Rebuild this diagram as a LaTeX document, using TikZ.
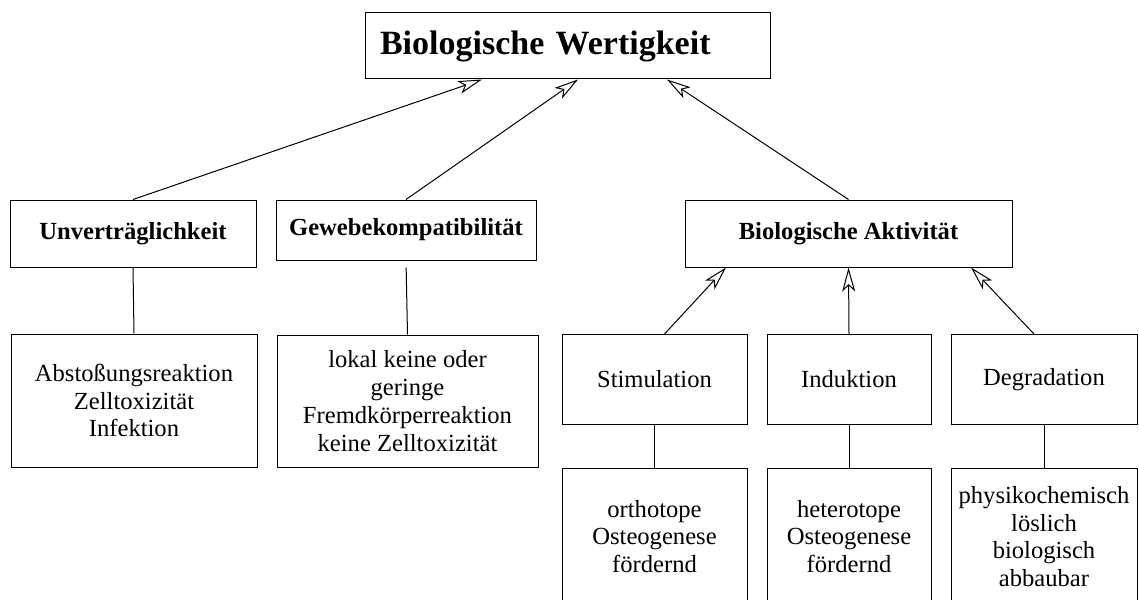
\documentclass[tikz,border=0pt]{standalone}
\usepackage{fontspec}
\setmainfont{Liberation Serif}
\usetikzlibrary{arrows, arrows.meta}
\usetikzlibrary{calc}
\begin{document}
\begin{tikzpicture}[x=0.5pt, y=-0.5pt, line width=0.5pt,
    box/.style={draw, inner sep=0pt, align=center, font=\fontsize{12.3}{13.9}\selectfont},
    head/.style={box, font=\fontsize{12.3}{13.9}\selectfont\bfseries},
    up/.style={-{Stealth[open, length=12pt, width=6.5pt, inset=3pt]}}]
      \useasboundingbox (0,0) rectangle (1139,599);

      \node[draw, inner xsep=7.5pt, inner ysep=0pt, text width=187.5pt, align=left, minimum height=33pt, font=\fontsize{17}{20}\selectfont\bfseries] (wert) at (567.5,46) {Biologische Wertigkeit};

      \node[head, minimum width=123pt, minimum height=33.5pt] (unv) at (133,233.5) {Unverträglichkeit};
      \node[head, minimum width=130pt, minimum height=30pt] (gew) at (406,230) {Gewebekompatibilität};
      \node[head, minimum width=163.5pt, minimum height=33.5pt] (akt) at (848.5,233.5) {Biologische Aktivität};

      \node[box, minimum width=123pt, minimum height=66.5pt] (abst) at (134,400.5) {Abstoßungsreaktion\\Zelltoxizität\\Infektion};
      \node[box, minimum width=130.5pt, minimum height=66pt] (lokal) at (407.5,401) {lokal keine oder\\geringe\\Fremdkörperreaktion\\keine Zelltoxizität};

      \node[box, minimum width=92.5pt, minimum height=45pt] (stim) at (654.5,379.5) {Stimulation};
      \node[box, minimum width=82pt, minimum height=45pt] (ind) at (849,379.5) {Induktion};
      \node[box, minimum width=93pt, minimum height=45pt] (deg) at (1044,379.5) {Degradation};

      \node[box, minimum width=92.5pt, minimum height=68.5pt] (ortho) at (654.5,536.5) {orthotope\\Osteogenese\\fördernd};
      \node[box, minimum width=82pt, minimum height=68.5pt] (hetero) at (849,536.5) {heterotope\\Osteogenese\\fördernd};
      \node[box, minimum width=93pt, minimum height=68.5pt] (phys) at (1044,536.5) {physikochemisch\\löslich\\biologisch\\abbaubar};

      % zur Wertigkeit
      \draw[up] (unv.north) -- ($(wert.south)+(-85.5,0)$);
      \draw[up] (gew.north) -- ($(wert.south)+(10.5,0)$);
      \draw[up] (akt.north) -- ($(wert.south)+(99.5,0)$);

      % zur Aktivitaet
      \draw[up] ($(stim.north)+(10,0)$) -- ($(akt.south)+(-122.5,0)$);
      \draw[up] (ind.north) -- (akt.south);
      \draw[up] ($(deg.north)+(-10,0)$) -- ($(akt.south)+(122.5,0)$);

      \draw (unv.south) -- (abst.north);
      \draw[shorten <=3.5pt] (gew.south) -- (lokal.north);
      \draw (stim.south) -- (ortho.north);
      \draw (ind.south) -- (hetero.north);
      \draw (deg.south) -- (phys.north);
    \end{tikzpicture}
\end{document}
